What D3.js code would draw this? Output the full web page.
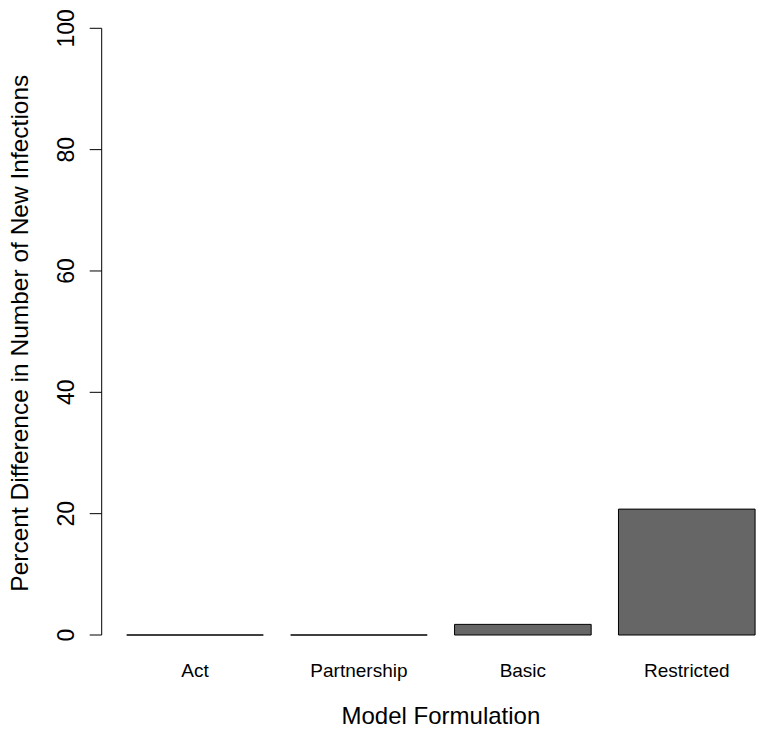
<!DOCTYPE html>
<html><head><meta charset="utf-8">
<script src="https://cdn.jsdelivr.net/npm/d3@7"></script>
<style>body{margin:0;background:#fff}svg{display:block}text{font-family:"Liberation Sans",Arial,Helvetica,sans-serif;fill:#000}</style>
</head><body><div id="chart"></div>
<script>
const categories = ["Act", "Partnership", "Basic", "Restricted"];
const values = [0, 0, 1.75, 20.75];
const yTicks = [0, 20, 40, 60, 80, 100];
const xTitle = "Model Formulation";
const yTitle = "Percent Difference in Number of New Infections";

const W = 764, H = 734;
const svg = d3.select("#chart").append("svg").attr("width", W).attr("height", H);

// R barplot layout: bar width 1, space 0.2
const unit = 136.6, origin = 99.4;
const x = d3.scaleLinear().domain([0, 1]).range([origin, origin + unit]);
const y = d3.scaleLinear().domain([0, 100]).range([635, 28.3]);
const left = (i) => 0.2 + 1.2 * i;

svg.append("g").selectAll("path").data(values).join("path")
  .attr("d", (d, i) => {
    const x0 = x(left(i)), x1 = x(left(i) + 1), y0 = y(0), y1 = y(d);
    return `M${x0},${y0}L${x0},${y1}L${x1},${y1}L${x1},${y0}Z`;
  })
  .attr("fill", "#666666").attr("stroke", "#000").attr("stroke-width", 1);

// y axis
const axisX = 101.7;
const ya = svg.append("g");
ya.append("line").attr("x1", axisX).attr("x2", axisX).attr("y1", y(0)).attr("y2", y(100))
  .attr("stroke", "#000").attr("stroke-width", 1);
ya.selectAll("line.t").data(yTicks).join("line").attr("class", "t")
  .attr("x1", axisX - 12).attr("x2", axisX).attr("y1", d => y(d)).attr("y2", d => y(d))
  .attr("stroke", "#000").attr("stroke-width", 1);
ya.selectAll("text").data(yTicks).join("text")
  .attr("transform", d => `translate(73.5,${y(d)}) rotate(-90)`)
  .attr("text-anchor", "middle").attr("font-size", 23).text(d => d);

// category labels
svg.append("g").selectAll("text").data(categories).join("text")
  .attr("x", (d, i) => x(left(i) + 0.5)).attr("y", 677.3)
  .attr("text-anchor", "middle").attr("font-size", 19).text(d => d);

svg.append("text").attr("x", x(2.5)).attr("y", 723.5).attr("text-anchor", "middle")
  .attr("font-size", 24).text(xTitle);
svg.append("text").attr("transform", `translate(27.5,${y(50) + 1.5}) rotate(-90)`)
  .attr("text-anchor", "middle").attr("font-size", 24.5).text(yTitle);
</script></body></html>
